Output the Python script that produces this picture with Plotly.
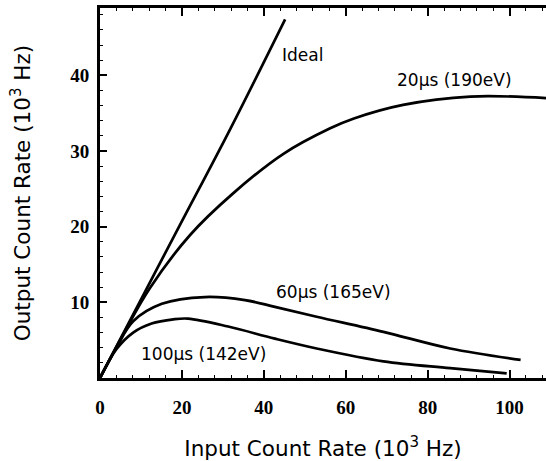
import plotly.graph_objects as go

# ---- data ----
ideal_x = [0, 10.6, 19.5, 31.7, 45.2]
ideal_y = [0, 11.0, 20.2, 32.8, 47.4]

c20_x = [0, 6.1, 12.2, 22.0, 32.5, 44.7, 56.2, 62.0, 74.0, 90.4, 108.9]
c20_y = [0, 6.2, 11.9, 18.9, 24.4, 29.6, 33.0, 34.3, 36.1, 37.2, 37.0]

c60_x = [0, 4.0, 8.1, 15.1, 25.6, 35.4, 42.7, 52.9, 69.2, 85.5, 102.7]
c60_y = [0, 4.0, 7.5, 9.8, 10.7, 10.3, 9.4, 8.1, 6.1, 3.9, 2.4]

c100_x = [0, 4.0, 8.1, 12.6, 17.9, 21.5, 31.3, 42.7, 52.9, 69.2, 85.5, 99.3]
c100_y = [0, 3.8, 6.0, 7.2, 7.75, 7.85, 6.8, 5.2, 3.9, 2.2, 1.3, 0.6]

x_ticks = [0, 20, 40, 60, 80, 100]
y_ticks = [10, 20, 30, 40]

labels = ["Ideal", "20μs (190eV)", "60μs (165eV)", "100μs (142eV)"]
label_x = [44.0, 86.6, 56.9, 25.2]
label_y = [42.7, 39.4, 11.4, 3.2]
label_anchor = ["left", "center", "center", "center"]

fig = go.Figure()
for xs, ys in [(ideal_x, ideal_y), (c20_x, c20_y), (c60_x, c60_y), (c100_x, c100_y)]:
    fig.add_trace(go.Scatter(x=xs, y=ys, mode="lines",
                             line=dict(color="black", width=2.7, shape="spline", smoothing=1.0),
                             showlegend=False, hoverinfo="skip"))

for t, lx, ly, anc in zip(labels, label_x, label_y, label_anchor):
    fig.add_annotation(x=lx, y=ly, text=t, showarrow=False, xanchor=anc, yanchor="middle",
                       font=dict(family="DejaVu Sans", size=17, color="black"))

tickfont = dict(family="Liberation Serif", size=19, color="black", weight="bold")
fig.update_layout(
    width=546, height=461,
    margin=dict(l=100, r=0, t=8, b=83),
    paper_bgcolor="white", plot_bgcolor="white",
    xaxis=dict(range=[0, 108.9], tickvals=x_ticks, ticks="inside", ticklen=8, tickwidth=2,
               tickcolor="black", showline=True, linewidth=3, linecolor="black",
               mirror="ticks", showgrid=False, zeroline=False, tickfont=tickfont,
               ticklabelstandoff=10,
               minor=dict(dtick=4, ticks="inside", ticklen=3, tickwidth=1, tickcolor="black"),
               title=dict(text="Input Count Rate (10<sup>3</sup> Hz)", standoff=25,
                          font=dict(family="DejaVu Sans", size=21.5, color="black"))),
    yaxis=dict(range=[0, 48.9], tickvals=y_ticks, ticks="inside", ticklen=7, tickwidth=2,
               tickcolor="black", showline=True, linewidth=3, linecolor="black",
               mirror=False, showgrid=False, zeroline=False, tickfont=tickfont,
               ticklabelstandoff=4,
               minor=dict(dtick=2, ticks="inside", ticklen=3, tickwidth=1, tickcolor="black"),
               title=dict(text="Output Count Rate (10<sup>3</sup> Hz)", standoff=34,
                          font=dict(family="DejaVu Sans", size=21.5, color="black"))),
)

fig.write_html("out.html")
